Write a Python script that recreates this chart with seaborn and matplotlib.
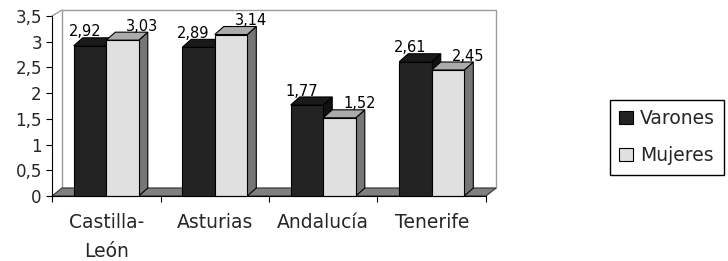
import numpy as np
import pandas as pd
import matplotlib.pyplot as plt
from matplotlib.patches import Polygon, Patch
import seaborn as sns

# datos
regiones = ["Castilla-\nLeón", "Asturias", "Andalucía", "Tenerife"]
varones = [2.92, 2.89, 1.77, 2.61]
mujeres = [3.03, 3.14, 1.52, 2.45]
series = ["Varones", "Mujeres"]
y_ticks = [0, 0.5, 1, 1.5, 2, 2.5, 3, 3.5]

df = pd.DataFrame({
    "region": regiones * 2,
    "valor": varones + mujeres,
    "sexo": [series[0]] * len(regiones) + [series[1]] * len(regiones),
})

front = ["#232323", "#e0e0e0"]
top = ["#1a1a1a", "#ababab"]
side = ["#111111", "#767676"]

sns.set_style("white")

W, H = 728, 261
fig = plt.figure(figsize=(W / 100, H / 100), dpi=100)
ax = fig.add_axes([52 / W, 1 - 196 / H, 434 / W, 180 / H])
ax.patch.set_visible(False)

sns.barplot(data=df, x="region", y="valor", hue="sexo", palette=front,
            width=0.6, edgecolor="black", linewidth=0.8, errorbar=None,
            legend=False, ax=ax)

ax.set_xlim(-0.5, len(regiones) - 0.5)
ax.set_ylim(0, 3.5)

# pixel -> data units for the fake 3D depth
px_x = len(regiones) / 434
px_y = 3.5 / 180
DX, DY = 9 * px_x, 8 * px_y
DXW, DYW = 10 * px_x, 8 * px_y
x0, x1 = ax.get_xlim()

# back wall and floor
wall = Polygon([(x0 + DXW, DYW), (x1 + DXW, DYW), (x1 + DXW, 3.5 + 6 * px_y),
                (x0 + DXW, 3.5 + 6 * px_y)], closed=True, facecolor="white",
               edgecolor="#9a9a9a", lw=1, clip_on=False, zorder=0.5)
ax.add_patch(wall)
ax.plot([x0, x0 + DXW], [3.5, 3.5 + 6 * px_y], color="#9a9a9a", lw=1,
        clip_on=False, zorder=0.6)
floor = Polygon([(x0, 0), (x1, 0), (x1 + DXW, DYW), (x0 + DXW, DYW)], closed=True,
                facecolor="#808080", edgecolor="#333333", lw=0.8, clip_on=False,
                zorder=1)
ax.add_patch(floor)

# 3D faces on each bar
for i, cont in enumerate(ax.containers):
    base = 3 + i
    for bar in cont:
        bx0 = bar.get_x()
        bx1 = bx0 + bar.get_width()
        h = bar.get_height()
        bar.set_zorder(base + 0.3)
        bar.set_clip_on(False)
        ax.add_patch(Polygon([(bx1, 0), (bx1 + DX, DY), (bx1 + DX, h + DY), (bx1, h)],
                             closed=True, facecolor=side[i], edgecolor="black",
                             lw=0.8, zorder=base + 0.1, clip_on=False))
        ax.add_patch(Polygon([(bx0, h), (bx1, h), (bx1 + DX, h + DY), (bx0 + DX, h + DY)],
                             closed=True, facecolor=top[i], edgecolor="black",
                             lw=0.8, zorder=base + 0.2, clip_on=False))

# value labels
for cont, dx in zip(ax.containers, [-3.6, 14.4]):
    for bar in cont:
        h = bar.get_height()
        ax.annotate(f"{h:.2f}".replace(".", ","), (bar.get_x() + bar.get_width() / 2, h),
                    xytext=(dx, 10), textcoords="offset points", ha="center",
                    va="center", fontsize=10.5, color="black", zorder=10,
                    annotation_clip=False)

# axes
for s in ["top", "right"]:
    ax.spines[s].set_visible(False)
ax.spines["left"].set_color("black")
ax.spines["bottom"].set_color("black")
ax.spines["left"].set_zorder(6)
ax.spines["bottom"].set_zorder(6)

ax.set_yticks(y_ticks)
ax.set_yticklabels([f"{v:g}".replace(".", ",") for v in y_ticks], fontsize=12)
ax.tick_params(axis="y", direction="out", length=4.3, width=0.8, color="black", pad=3,
               left=True)
ax.set_xticks(range(len(regiones)))
ax.set_xticklabels(regiones, fontsize=13.5, linespacing=1.65)
ax.set_xticks(np.arange(x0, x1 + 0.01, 1), minor=True)
ax.tick_params(axis="x", which="major", length=0, pad=12.5)
ax.tick_params(axis="x", which="minor", direction="out", length=4.3, width=0.8,
               color="black", bottom=True)
ax.set_xlabel("")
ax.set_ylabel("")

handles = [Patch(facecolor=front[i], edgecolor="black", lw=0.8) for i in range(2)]
leg = fig.legend(handles, series, loc="upper left",
                 bbox_to_anchor=(610 / W, 1 - 100 / H), frameon=True, fancybox=False,
                 edgecolor="black", framealpha=1, fontsize=13.5, handlelength=0.7,
                 handleheight=0.7, handletextpad=0.4, labelspacing=0.95,
                 borderpad=0.5, borderaxespad=0)
leg.get_frame().set_linewidth(1)

fig.savefig("out.png", dpi=100)
